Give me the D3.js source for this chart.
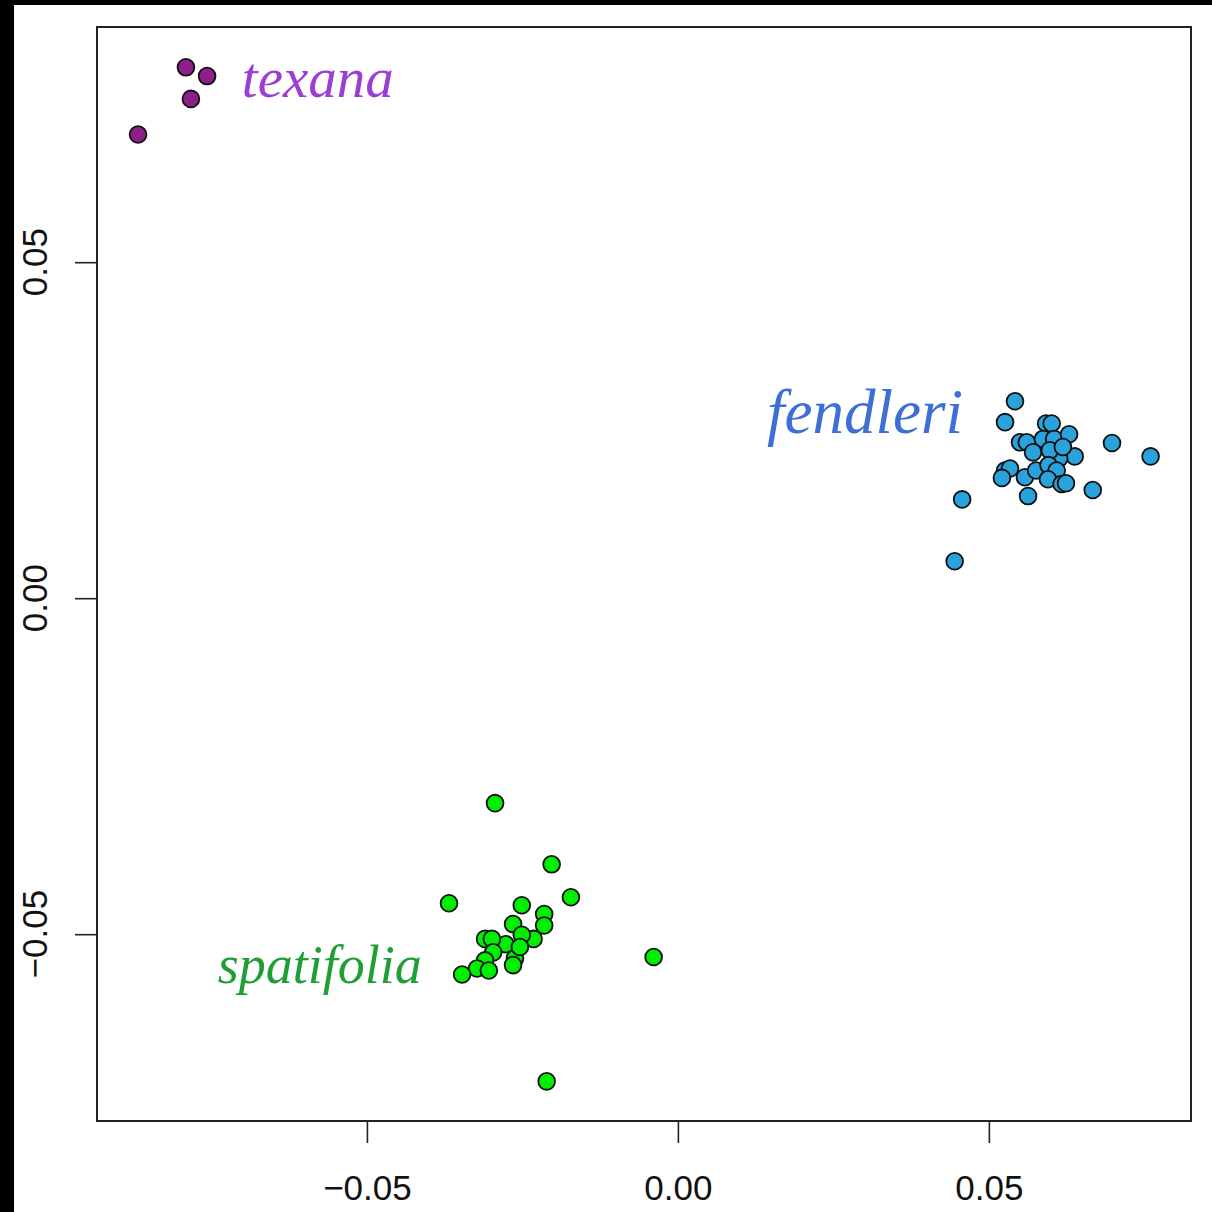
<!DOCTYPE html>
<html>
<head>
<meta charset="utf-8">
<script src="https://cdn.jsdelivr.net/npm/d3@7"></script>
<style>
  body { margin: 0; background: #fff; }
  svg { display: block; }
</style>
</head>
<body>
<svg id="plot"></svg>
<script>
// PCA-like scores
const texana = [
  [-0.0791, 0.0790], [-0.0757, 0.0777], [-0.0783, 0.0743], [-0.0868, 0.0690]
];
const fendleri = [
  [0.0542, 0.0293], [0.0526, 0.0262], [0.0592, 0.0260], [0.0601, 0.0260],
  [0.0550, 0.0232], [0.0561, 0.0232], [0.0587, 0.0237], [0.0605, 0.0237],
  [0.0629, 0.0244], [0.0698, 0.0231], [0.0760, 0.0211], [0.0571, 0.0217],
  [0.0638, 0.0211], [0.0613, 0.0208], [0.0598, 0.0220], [0.0619, 0.0225],
  [0.0526, 0.0190], [0.0534, 0.0193], [0.0521, 0.0179], [0.0558, 0.0180],
  [0.0576, 0.0190], [0.0596, 0.0198], [0.0609, 0.0190], [0.0595, 0.0177],
  [0.0617, 0.0170], [0.0624, 0.0171], [0.0563, 0.0152], [0.0667, 0.0161],
  [0.0457, 0.0147], [0.0445, 0.0055]
];
const spatifolia = [
  [-0.0294, -0.0305], [-0.0203, -0.0396], [-0.0368, -0.0454], [-0.0172, -0.0445],
  [-0.0251, -0.0457], [-0.0215, -0.0470], [-0.0215, -0.0487], [-0.0265, -0.0485],
  [-0.0232, -0.0507], [-0.0251, -0.0501], [-0.0277, -0.0515], [-0.0310, -0.0507],
  [-0.0299, -0.0507], [-0.0297, -0.0527], [-0.0262, -0.0536], [-0.0265, -0.0546],
  [-0.0254, -0.0519], [-0.0310, -0.0539], [-0.0323, -0.0551], [-0.0304, -0.0554],
  [-0.0347, -0.0560], [-0.0039, -0.0534], [-0.0211, -0.0719]
];

const xTicks = [-0.05, 0, 0.05];
const yTicks = [-0.05, 0, 0.05];

const groups = [
  { name: "texana", pts: texana, fill: "#8e1f8a", ink: "#9b3fd4", label: [-0.0579, 0.0746] },
  { name: "fendleri", pts: fendleri, fill: "#2aa3dc", ink: "#3d6fd6", label: [0.0301, 0.0246] },
  { name: "spatifolia", pts: spatifolia, fill: "#00ee00", ink: "#1f9e35", label: [-0.0576, -0.0573] }
];
const labelSize = { texana: 57, fendleri: 63, spatifolia: 54 };

const W = 1212, H = 1212;
const margin = { top: 27, right: 21, bottom: 91, left: 97 };

const x = d3.scaleLinear().domain([-0.0934, 0.0825]).range([margin.left, W - margin.right]);
const y = d3.scaleLinear().domain([-0.0778, 0.085]).range([H - margin.bottom, margin.top]);

const svg = d3.select("#plot").attr("width", W).attr("height", H);
svg.append("rect").attr("width", W).attr("height", H).attr("fill", "#fff");

// dark edges of the original screenshot
svg.append("rect").attr("x", 0).attr("y", 0).attr("width", W).attr("height", 5).attr("fill", "#000");
svg.append("rect").attr("x", 0).attr("y", 0).attr("width", 14).attr("height", H).attr("fill", "#000");

const fmt = d3.format(".2f");

// x axis
const xAxis = svg.append("g")
  .attr("transform", `translate(0,${H - margin.bottom})`)
  .call(d3.axisBottom(x).tickValues(xTicks).tickSize(22).tickFormat(fmt));
xAxis.select(".domain").remove();
xAxis.selectAll("line").attr("stroke", "#222").attr("stroke-width", 1.6);
xAxis.selectAll("text")
  .attr("y", 54).attr("dy", "0.71em")
  .attr("fill", "#111")
  .style("font-family", "'Liberation Sans', Arial, sans-serif")
  .style("font-size", "35px");

// y axis, labels rotated like base R
const yAxis = svg.append("g")
  .attr("transform", `translate(${margin.left},0)`)
  .call(d3.axisLeft(y).tickValues(yTicks).tickSize(22).tickFormat(""));
yAxis.select(".domain").remove();
yAxis.selectAll("line").attr("stroke", "#222").attr("stroke-width", 1.6);
svg.append("g").selectAll("text")
  .data(yTicks)
  .join("text")
  .attr("transform", d => `translate(47,${y(d)}) rotate(-90)`)
  .attr("text-anchor", "middle")
  .attr("fill", "#111")
  .style("font-family", "'Liberation Sans', Arial, sans-serif")
  .style("font-size", "35px")
  .text(d => fmt(d).replace("-", "\u2212"));

// points
groups.forEach(g => {
  svg.append("g")
    .selectAll("circle")
    .data(g.pts)
    .join("circle")
    .attr("cx", d => x(d[0]))
    .attr("cy", d => y(d[1]))
    .attr("r", 8.4)
    .attr("fill", g.fill)
    .attr("stroke", "#111")
    .attr("stroke-width", 1.8);
});

// species labels
svg.append("g").selectAll("text")
  .data(groups)
  .join("text")
  .attr("x", d => x(d.label[0]))
  .attr("y", d => y(d.label[1]))
  .attr("text-anchor", "middle")
  .attr("fill", d => d.ink)
  .style("font-family", "'Liberation Serif', 'DejaVu Serif', serif")
  .style("font-style", "italic")
  .style("font-size", d => labelSize[d.name] + "px")
  .text(d => d.name);

// box round the plot region
svg.append("rect")
  .attr("x", margin.left).attr("y", margin.top)
  .attr("width", W - margin.left - margin.right)
  .attr("height", H - margin.top - margin.bottom)
  .attr("fill", "none")
  .attr("stroke", "#222")
  .attr("stroke-width", 2);
</script>
</body>
</html>
